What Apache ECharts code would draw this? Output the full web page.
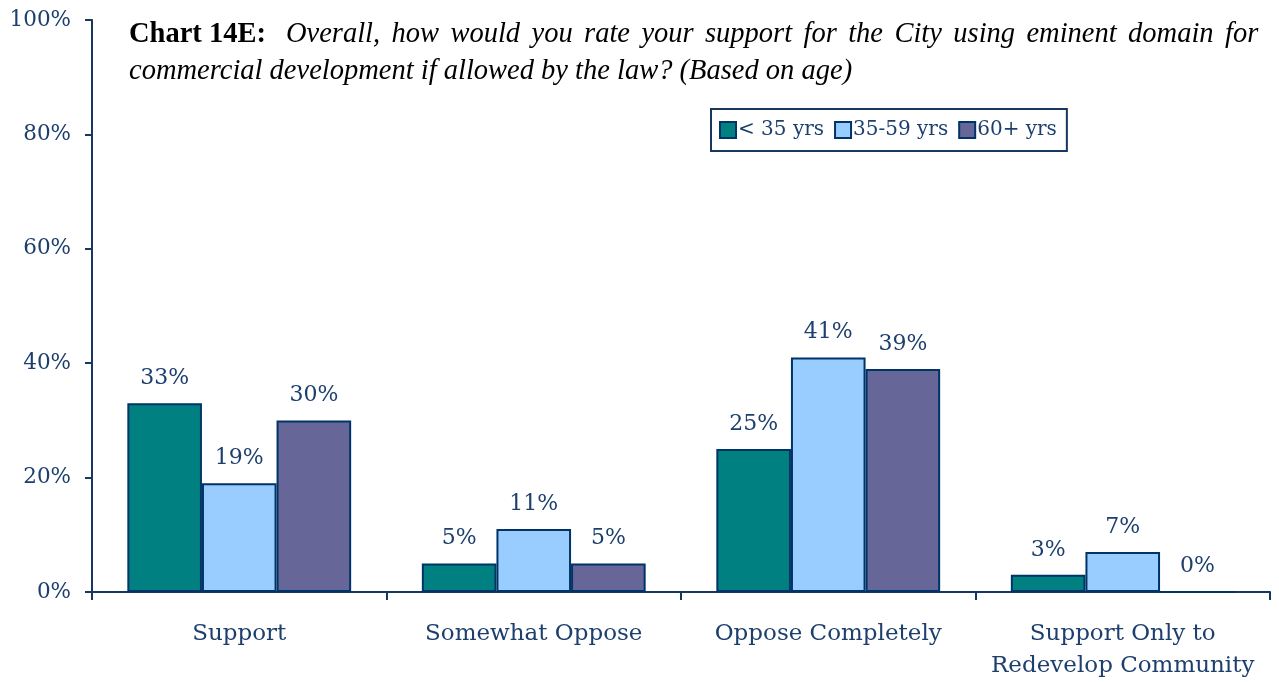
<!DOCTYPE html>
<html>
<head>
    <meta charset="utf-8" />
    <title>Chart 14E</title>
    <script src="https://cdn.jsdelivr.net/npm/echarts@6/dist/echarts.min.js"></script>
    <style>
        html, body { margin: 0; padding: 0; background: #fff; }
        #container { width: 1279px; height: 682px; }
    </style>
</head>
<body>
    <div id="container"></div>
</body>
</html>
<script>
    // data
    var categories = ['Support', 'Somewhat Oppose', 'Oppose Completely', 'Support Only to\nRedevelop Community'];
    var seriesNames = ['< 35 yrs', '35-59 yrs', '60+ yrs'];
    var under35 = [33, 5, 25, 3];
    var mid35to59 = [19, 11, 41, 7];
    var over60 = [30, 5, 39, 0];
    var yTicks = [0, 20, 40, 60, 80, 100];

    var textColor = '#1d3f6e';
    var lineColor = '#17375e';
    var serif = '"DejaVu Serif", serif';
    var times = '"Liberation Serif", serif';

    var colors = ['#008080', '#99ccff', '#666699'];
    var values = [under35, mid35to59, over60];

    var dom = document.getElementById('container');
    var myChart = echarts.init(dom);

    var series = seriesNames.map(function (name, i) {
        return {
            name: name,
            type: 'bar',
            data: values[i],
            barGap: '0%',
            barCategoryGap: '24%',
            itemStyle: {
                color: colors[i],
                borderColor: '#003366',
                borderWidth: 2
            },
            label: {
                show: true,
                position: 'top',
                distance: 14,
                formatter: '{c}%',
                color: textColor,
                fontFamily: serif,
                fontSize: 22
            }
        };
    });

    // first title line is justified in the original, so spaces get a little extra width
    var line1 = 'Overall, how would you rate your support for the City using eminent domain for'
        .split(' ').map(function (w) { return '{i|' + w + '}'; }).join('{s| }');

    var option = {
        backgroundColor: '#fff',
        animation: false,
        title: {
            left: 124,
            top: 11,
            text: '{b|Chart 14E:}{g| }' + line1 + '\n{i|commercial development if allowed by the law? (Based on age)}',
            textStyle: {
                rich: {
                    b: { fontFamily: times, fontWeight: 'bold', fontStyle: 'normal', fontSize: 28.5, color: '#000', lineHeight: 37 },
                    i: { fontFamily: times, fontWeight: 'normal', fontStyle: 'italic', fontSize: 28.5, color: '#000', lineHeight: 37 },
                    s: { fontFamily: times, fontSize: 28.5, lineHeight: 37, width: 11.4 },
                    g: { fontFamily: times, fontSize: 28.5, lineHeight: 37, width: 20 }
                }
            }
        },
        legend: {
            left: 711,
            top: 109,
            width: 357,
            height: 46,
            padding: [11, 10, 11, 8],
            itemGap: 10,
            itemWidth: 16,
            itemHeight: 16,
            icon: 'rect',
            borderColor: lineColor,
            borderWidth: 2,
            textStyle: { color: textColor, fontFamily: serif, fontSize: 20, padding: [0, 0, 0, -3] },
            data: seriesNames.map(function (n, i) {
                return { name: n, itemStyle: { color: colors[i], borderColor: '#003366', borderWidth: 2 } };
            })
        },
        grid: {
            left: 92,
            top: 20,
            width: 1178,
            height: 572,
            containLabel: false
        },
        xAxis: {
            type: 'category',
            data: categories,
            axisLine: { lineStyle: { color: lineColor, width: 2 } },
            axisTick: { show: true, length: 8, lineStyle: { color: lineColor, width: 2 } },
            axisLabel: {
                color: textColor,
                fontFamily: serif,
                fontSize: 23,
                lineHeight: 32,
                margin: 26,
                interval: 0
            }
        },
        yAxis: {
            type: 'value',
            min: yTicks[0],
            max: yTicks[yTicks.length - 1],
            interval: yTicks[1] - yTicks[0],
            splitLine: { show: false },
            axisLine: { show: true, lineStyle: { color: lineColor, width: 2 } },
            axisTick: { show: true, length: 7, lineStyle: { color: lineColor, width: 2 } },
            axisLabel: {
                formatter: '{value}%',
                color: textColor,
                fontFamily: serif,
                fontSize: 21.5,
                margin: 21
            }
        },
        series: series
    };

    myChart.setOption(option);
</script>
